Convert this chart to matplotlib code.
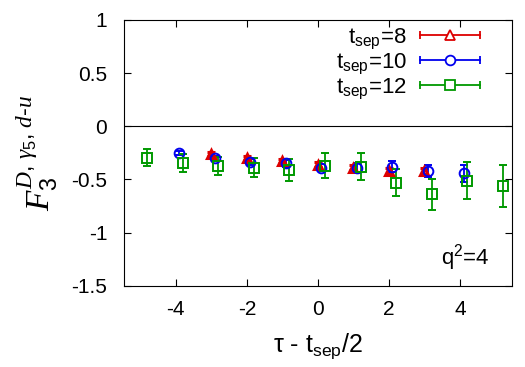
import matplotlib
matplotlib.use("Agg")
import matplotlib.pyplot as plt
from matplotlib.lines import Line2D
from matplotlib.legend_handler import HandlerBase

plt.rcParams['font.family'] = ['Liberation Sans', 'DejaVu Sans']
plt.rcParams['mathtext.fontset'] = 'custom'
plt.rcParams['mathtext.rm'] = 'Liberation Sans'
plt.rcParams['mathtext.it'] = 'Liberation Serif:italic'

# tsep = 8
x8 = [-3, -2, -1, 0, 1, 2, 3]
y8 = [-0.263, -0.30, -0.33, -0.36, -0.39, -0.42, -0.42]
e8 = [0.02, 0.02, 0.02, 0.02, 0.025, 0.025, 0.03]

# tsep = 10
x10 = [-3.9, -2.9, -1.9, -0.9, 0.1, 1.1, 2.1, 3.1, 4.1]
y10 = [-0.25, -0.30, -0.335, -0.35, -0.39, -0.39, -0.38, -0.42, -0.44]
e10 = [0.02, 0.025, 0.025, 0.03, 0.035, 0.04, 0.05, 0.06, 0.08]

# tsep = 12
x12 = [-4.8, -3.8, -2.8, -1.8, -0.8, 0.2, 1.2, 2.2, 3.2, 4.2, 5.2]
y12 = [-0.294, -0.345, -0.376, -0.39, -0.41, -0.37, -0.38, -0.53, -0.64, -0.51, -0.56]
e12 = [0.08, 0.086, 0.086, 0.09, 0.10, 0.115, 0.125, 0.13, 0.145, 0.17, 0.2]

xticks = [-4, -2, 0, 2, 4]
yticks = [-1.5, -1, -0.5, 0, 0.5, 1]
yticklabels = ['-1.5', '-1', '-0.5', '0', '0.5', '1']


class HandlerHorizEB(HandlerBase):
    def create_artists(self, legend, orig_handle, xdescent, ydescent,
                       width, height, fontsize, trans):
        data_line = orig_handle.lines[0]
        color = data_line.get_color()
        marker = data_line.get_marker()
        y = height / 2.0 - ydescent
        x0, x1 = -xdescent, width - xdescent
        line = Line2D([x0, x1], [y, y], color=color, lw=1.3)
        caps = Line2D([x0, x1], [y, y], ls='none', marker='|', ms=6,
                      mew=1.3, color=color)
        mk = Line2D([(x0 + x1) / 2.0], [y], ls='none', marker=marker, ms=7,
                    mfc='white', mec=color, mew=1.3)
        for a in (line, caps, mk):
            a.set_transform(trans)
        return [line, caps, mk]


fig = plt.figure(figsize=(5.25, 3.67), dpi=100)
ax = fig.add_axes([0.236, 0.221, 0.739, 0.725])

ax.axhline(0, color='black', lw=0.8)

common = dict(linestyle='none', capsize=3, elinewidth=1.3, capthick=1.3,
              markerfacecolor='none')
h8 = ax.errorbar(x8, y8, yerr=e8, marker='^', ms=6, markeredgewidth=2.2,
                 color='#dd0000', **common)
h10 = ax.errorbar(x10, y10, yerr=e10, marker='o', ms=7, markeredgewidth=1.4,
                  color='#0000ee', **common)
h12 = ax.errorbar(x12, y12, yerr=e12, marker='s', ms=7, markeredgewidth=1.4,
                  color='#009900', **common)

ax.set_xlim(-5.46, 5.46)
ax.set_ylim(-1.5, 1)
ax.set_xticks(xticks)
ax.set_xticklabels([str(t) for t in xticks])
ax.set_yticks(yticks)
ax.set_yticklabels(yticklabels)
ax.tick_params(direction='in', top=True, right=True, labelsize=15, length=5)
ax.tick_params(axis='x', pad=10)
ax.tick_params(axis='y', pad=12)

ax.set_xlabel(r'$\mathregular{\tau}$ - $\mathregular{t_{sep}}$/2', fontsize=18, labelpad=9)
ax.set_ylabel(r'$F_3^{D,\,\gamma_5,\,d\text{-}u}$', fontsize=24, labelpad=8)

ax.text(0.943, 0.105, r'$\mathregular{q^2}$=4', transform=ax.transAxes,
        ha='right', va='center', fontsize=16)

labels = [r'$\mathregular{t_{sep}}$=8', r'$\mathregular{t_{sep}}$=10', r'$\mathregular{t_{sep}}$=12']
leg = ax.legend([h8, h10, h12], labels, loc='upper right',
                bbox_to_anchor=(0.935, 1.0), markerfirst=False,
                frameon=False, fontsize=16, handlelength=2.7, labelspacing=0.0,
                borderaxespad=0.0, borderpad=0.3, handletextpad=0.6,
                handler_map={type(h8): HandlerHorizEB()})
for t in leg.get_texts():
    t.set_ha('right')

fig.savefig('out.png', dpi=100)
